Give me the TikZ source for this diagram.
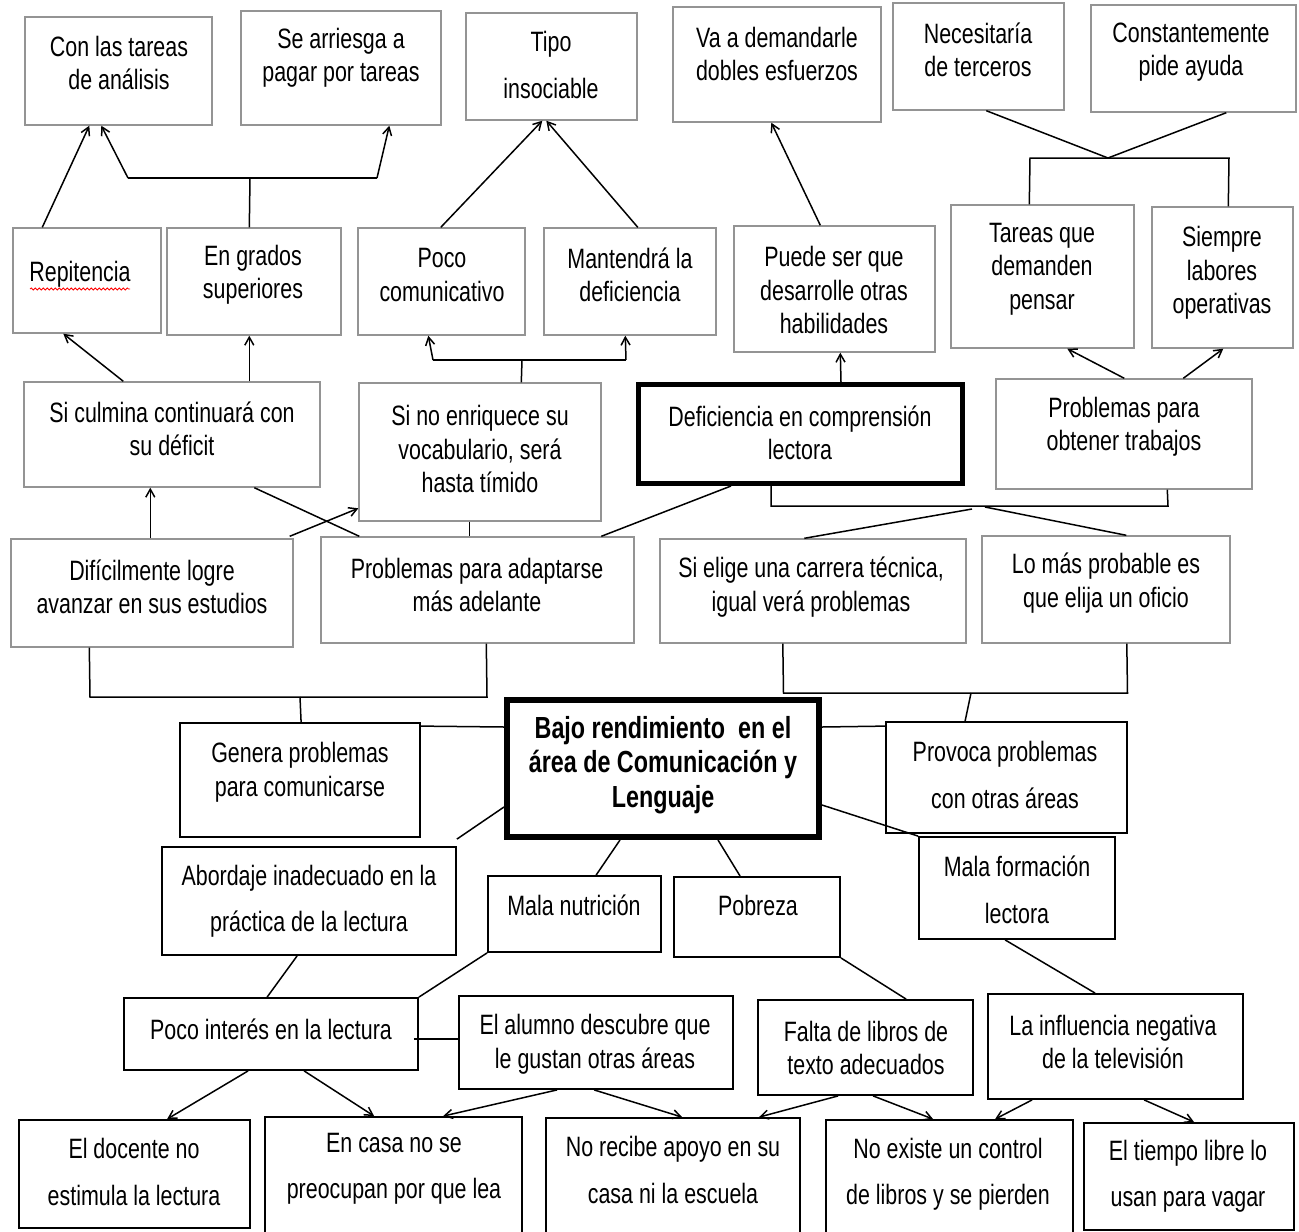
\documentclass[tikz,border=0pt]{standalone}
\usepackage{fontspec}
\setmainfont{Liberation Sans}[FakeStretch=0.765]
\usetikzlibrary{calc,arrows.meta,decorations.pathmorphing}
\tikzset{
 gbox/.style={draw=black!42, line width=1.4pt, inner sep=0pt},
 kbox/.style={draw=black, line width=1.8pt, inner sep=0pt},
 txt/.style={align=center, inner sep=0pt, font=\fontsize{28}{33.5}\selectfont, text=black},
 txtw/.style={txt, font=\fontsize{28}{46.5}\selectfont},
 txtb/.style={txt, font=\fontsize{30.5}{34.5}\selectfont\bfseries},
 ln/.style={line width=1.5pt, draw=black},
 ar/.style={ln, -{Straight Barb[length=8pt,width=9pt]}},
}
\begin{document}
\begin{tikzpicture}[x=1pt,y=-1pt]
\useasboundingbox (0,0) rectangle (1299,1232);

% ---- row 1
\node[gbox, minimum width=187, minimum height=108] (A1) at (118.5,71) {};
\node[txt] (tA1) at (119,63) {Con las tareas\\de análisis};
\node[gbox, minimum width=200, minimum height=114] (A2) at (341,68) {};
\node[txt] (tA2) at (341,58) {Se arriesga a\\pagar por tareas};
\node[gbox, minimum width=171, minimum height=107] (A3) at (551.5,66.5) {};
\node[txtw] (tA3) at (551,65) {Tipo\\insociable};
\node[gbox, minimum width=208, minimum height=115] (A4) at (777,64.5) {};
\node[txt] (tA4) at (777,54) {Va a demandarle\\dobles esfuerzos};
\node[gbox, minimum width=171, minimum height=107] (A5) at (978.5,56.5) {};
\node[txt] (tA5) at (978,50) {Necesitaría\\de terceros};
\node[gbox, minimum width=205, minimum height=107] (A6) at (1193.5,58.5) {};
\node[txt] (tA6) at (1191,52) {Constantemente\\pide ayuda};

% ---- row 2
\node[gbox, minimum width=148, minimum height=105] (B1) at (87,280.5) {};
\node[txt] (tB1) at (80,274) {Repitencia};
\draw[red, line width=0.8pt, decorate, decoration={snake, segment length=4pt, amplitude=1pt}] (30,289) -- (130,289);
\node[gbox, minimum width=174, minimum height=107] (B2) at (254,281.5) {};
\node[txt] (tB2) at (253,275) {En grados\\superiores};
\node[gbox, minimum width=167, minimum height=107] (B3) at (441.5,281.5) {};
\node[txt] (tB3) at (442,275) {Poco\\comunicativo};
\node[gbox, minimum width=172, minimum height=107] (B4) at (630,281.5) {};
\node[txt] (tB4) at (630,275) {Mantendrá la\\deficiencia};
\node[gbox, minimum width=201, minimum height=126] (B5) at (834.5,289) {};
\node[txt] (tB5) at (834,290) {Puede ser que\\desarrolle otras\\habilidades};
\node[gbox, minimum width=183, minimum height=143] (B6) at (1042.5,276.5) {};
\node[txt] (tB6) at (1042,269) {Tareas que\\demanden\\pensar};
\node[gbox, minimum width=141, minimum height=141] (B7) at (1222.5,277.5) {};
\node[txt] (tB7) at (1222,273) {Siempre\\labores\\operativas};

% ---- row 3
\node[gbox, minimum width=296, minimum height=105] (C1) at (172,434.5) {};
\node[txt] (tC1) at (172,429) {Si culmina continuará con\\su déficit};
\node[gbox, minimum width=242, minimum height=138] (C2) at (480,452) {};
\node[txt] (tC2) at (480,449) {Si no enriquece su\\vocabulario, será\\hasta tímido};
\node[draw=black, line width=5pt, inner sep=0pt, minimum width=324, minimum height=99] (C3) at (800.5,434) {};
\node[txt] (tC3) at (800,433) {Deficiencia en comprensión\\lectora};
\node[gbox, minimum width=256, minimum height=110] (C4) at (1124,434) {};
\node[txt] (tC4) at (1124,427) {Problemas para\\obtener trabajos};

% ---- row 4
\node[gbox, minimum width=282, minimum height=108] (D1) at (152,593) {};
\node[txt] (tD1) at (152,587) {Difícilmente logre\\avanzar en sus estudios};
\node[gbox, minimum width=313, minimum height=106] (D2) at (477.5,590) {};
\node[txt] (tD2) at (477,585) {Problemas para adaptarse\\más adelante};
\node[gbox, minimum width=306, minimum height=104] (D3) at (813,591) {};
\node[txt] (tD3) at (811,587) {Si elige una carrera técnica,\\igual verá problemas};
\node[gbox, minimum width=248, minimum height=107] (D4) at (1106,589.5) {};
\node[txt] (tD4) at (1106,583) {Lo más probable es\\que elija un oficio};

% ---- centre row
\node[draw=black, line width=6pt, inner sep=0pt, minimum width=312, minimum height=137] (E0) at (663,768.5) {};
\node[txtb] (tE0) at (663,765) {Bajo rendimiento\ \ en el\\área de Comunicación y\\Lenguaje};
\node[kbox, minimum width=240, minimum height=114] (E1) at (300,780) {};
\node[txt] (tE1) at (300,772) {Genera problemas\\para comunicarse};
\node[kbox, minimum width=241, minimum height=111] (E2) at (1006.5,777.5) {};
\node[txtw] (tE2) at (1005,775) {Provoca problemas\\con otras áreas};

% ---- causes
\node[kbox, minimum width=294, minimum height=108] (F1) at (309,901) {};
\node[txtw] (tF1) at (309,901) {Abordaje inadecuado en la\\práctica de la lectura};
\node[kbox, minimum width=173, minimum height=76] (F2) at (574.5,914) {};
\node[txt] (tF2) at (574,905) {Mala nutrición};
\node[kbox, minimum width=166, minimum height=80] (F3) at (757,917) {};
\node[txt] (tF3) at (758,905) {Pobreza};
\node[kbox, minimum width=196, minimum height=102] (F4) at (1017,888) {};
\node[txtw] (tF4) at (1017,890) {Mala formación\\lectora};

\node[kbox, minimum width=294, minimum height=72] (G1) at (271,1034) {};
\node[txt] (tG1) at (271,1029) {Poco interés en la lectura};
\node[kbox, minimum width=274, minimum height=93] (G2) at (596,1042.5) {};
\node[txt] (tG2) at (595,1044) {El alumno descubre que\\le gustan otras áreas};
\node[kbox, minimum width=215, minimum height=95] (G3) at (865.5,1047.5) {};
\node[txt] (tG3) at (866,1048) {Falta de libros de\\texto adecuados};
\node[kbox, minimum width=255, minimum height=105] (G4) at (1115.5,1046.5) {};
\node[txt] (tG4) at (1113,1042) {La influencia negativa\\de la televisión};

\node[kbox, minimum width=231, minimum height=108] (H1) at (134.5,1174) {};
\node[txtw] (tH1) at (134,1172) {El docente no\\estimula la lectura};
\node[kbox, minimum width=257, minimum height=122] (H2) at (393.5,1178) {};
\node[txtw] (tH2) at (394,1169) {En casa no se\\preocupan por que lea};
\node[kbox, minimum width=254, minimum height=122] (H3) at (673,1179) {};
\node[txtw] (tH3) at (673,1170) {No recibe apoyo en su\\casa ni la escuela};
\node[kbox, minimum width=247, minimum height=120] (H4) at (949.5,1180) {};
\node[txtw] (tH4) at (948,1174) {No existe un control\\de libros y se pierden};
\node[kbox, minimum width=210, minimum height=107] (H5) at (1189,1176.5) {};
\node[txtw] (tH5) at (1188,1176) {El tiempo libre lo\\usan para vagar};

% ---- connectors, upper part
\draw[ar] ($(B1.north west)+(30,0)$) -- ($(A1.south west)+(65,0)$);
\coordinate (J1) at (250,178);
\coordinate (J1l) at (128,178);
\coordinate (J1r) at (377,178);
\draw[ln] ($(B2.north west)+(83,0)$) -- (J1);
\draw[ln] (J1l) -- (J1r);
\draw[ar] (J1l) -- ($(A1.south west)+(77,0)$);
\draw[ar] (J1r) -- ($(A2.south west)+(149,0)$);
\draw[ar] ($(B3.north west)+(83.5,0)$) -- ($(A3.south west)+(77,0)$);
\draw[ar] ($(B4.north west)+(94.5,0)$) -- ($(A3.south west)+(81,0)$);
\draw[ar] ($(B5.north west)+(87,0)$) -- ($(A4.south west)+(99,0)$);
\coordinate (J2) at (1108,158);
\coordinate (J2l) at (1030,158);
\coordinate (J2r) at (1229,158);
\draw[ln] ($(A5.south west)+(94,0)$) -- (J2) -- ($(A6.south west)+(136,0)$);
\draw[ln] ($(B6.north west)+(79,0)$) -- (J2l) -- (J2r) -- ($(B7.north west)+(77,0)$);
\draw[ar] ($(C1.north west)+(100,0)$) -- ($(B1.south west)+(51,0)$);
\draw[ar] ($(C1.north west)+(226,0)$) -- ($(B2.south west)+(83,0)$);
\coordinate (J3) at (522,360);
\coordinate (J3l) at (433,360);
\coordinate (J3r) at (626,360);
\draw[ln] ($(C2.north west)+(163,0)$) -- (J3);
\draw[ln] (J3l) -- (J3r);
\draw[ar] (J3l) -- ($(B3.south west)+(71,0)$);
\draw[ar] (J3r) -- ($(B4.south west)+(82,0)$);
\draw[ar] ($(C3.north)+(40.5,0)$) -- ($(B5.south west)+(107,0)$);
\draw[ar] ($(C4.north west)+(129,0)$) -- ($(B6.south west)+(117,0)$);
\draw[ar] ($(C4.north west)+(188,0)$) -- ($(B7.south west)+(72,0)$);
\draw[ar] ($(D1.north west)+(140,0)$) -- ($(C1.south west)+(127,0)$);
\draw[ar] ($(D1.north east)+(-4,-2)$) -- ($(C2.north west)+(0,126)$);
\draw[ln] ($(C1.south west)+(231,0)$) -- ($(D2.north west)+(39,0)$);
\draw[ln] ($(C2.south west)+(111,0)$) -- ($(D2.north west)+(149,0)$);
\draw[ln] ($(C3.south west)+(95,0)$) -- ($(D2.north west)+(281,0)$);
\coordinate (K1) at (771,506);
\coordinate (K2) at (1168,506);
\draw[ln] ($(C3.south west)+(135,0)$) -- (K1) -- (K2) -- ($(C4.south west)+(172,0)$);
\coordinate (K3) at (972,509);
\coordinate (K4) at (985,507);
\draw[ln] (K3) -- ($(D3.north west)+(145,0)$);
\draw[ln] (K4) -- ($(D4.north west)+(145,0)$);
\coordinate (L1) at (90,697);
\coordinate (L2) at (487,697);
\coordinate (L3) at (300,697);
\draw[ln] ($(D1.south west)+(79,0)$) -- (L1) -- (L2) -- ($(D2.south west)+(166,0)$);
\draw[ln] (L3) -- ($(E1.north west)+(122,0)$);
\coordinate (M1) at (783.5,693);
\coordinate (M2) at (1127.5,693);
\coordinate (M3) at (971,693);
\draw[ln] ($(D3.south west)+(123.5,0)$) -- (M1) -- (M2) -- ($(D4.south west)+(145.5,0)$);
\draw[ln] (M3) -- ($(E2.north west)+(80,0)$);

% ---- connectors, lower part
\draw[ln] ($(E1.north east)+(0,4)$) -- ($(E0.north west)+(0,30)$);
\draw[ln] ($(E0.north east)+(0,30)$) -- ($(E2.north west)+(0,5)$);
\draw[ln] ($(E0.north west)+(0,110)$) -- ($(F1.north east)+(0,-7)$);
\draw[ln] ($(E0.south west)+(116,0)$) -- ($(F2.north west)+(109,0)$);
\draw[ln] ($(E0.south west)+(214,0)$) -- ($(F3.north west)+(67,0)$);
\draw[ln] ($(E0.north east)+(0,108)$) -- (F4.north west);
\draw[ln] ($(F1.south west)+(136,0)$) -- ($(G1.north west)+(144,0)$);
\draw[ln] (F2.south west) -- (G1.north east);
\draw[ln] (F3.south east) -- ($(G3.north west)+(149,0)$);
\draw[ln] ($(F4.south west)+(87,0)$) -- ($(G4.north west)+(108,0)$);
\draw[ln] ($(G1.north east)+(-5,42)$) -- ($(G2.north west)+(0,44)$);
\draw[ar] ($(G1.south west)+(125,0)$) -- ($(H1.north west)+(149,0)$);
\draw[ar] ($(G1.south west)+(181,0)$) -- ($(H2.north west)+(110,0)$);
\draw[ar] ($(G2.south west)+(99,0)$) -- ($(H2.north west)+(179,0)$);
\draw[ar] ($(G2.south west)+(136,0)$) -- ($(H3.north west)+(137,0)$);
\draw[ar] ($(G3.south west)+(81,0)$) -- ($(H3.north west)+(214,0)$);
\draw[ar] ($(G3.south west)+(116,0)$) -- ($(H4.north west)+(108,0)$);
\draw[ar] ($(G4.south west)+(45,0)$) -- ($(H4.north west)+(170,0)$);
\draw[ar] ($(G4.south west)+(157,0)$) -- ($(H5.north west)+(111,0)$);
\end{tikzpicture}
\end{document}
